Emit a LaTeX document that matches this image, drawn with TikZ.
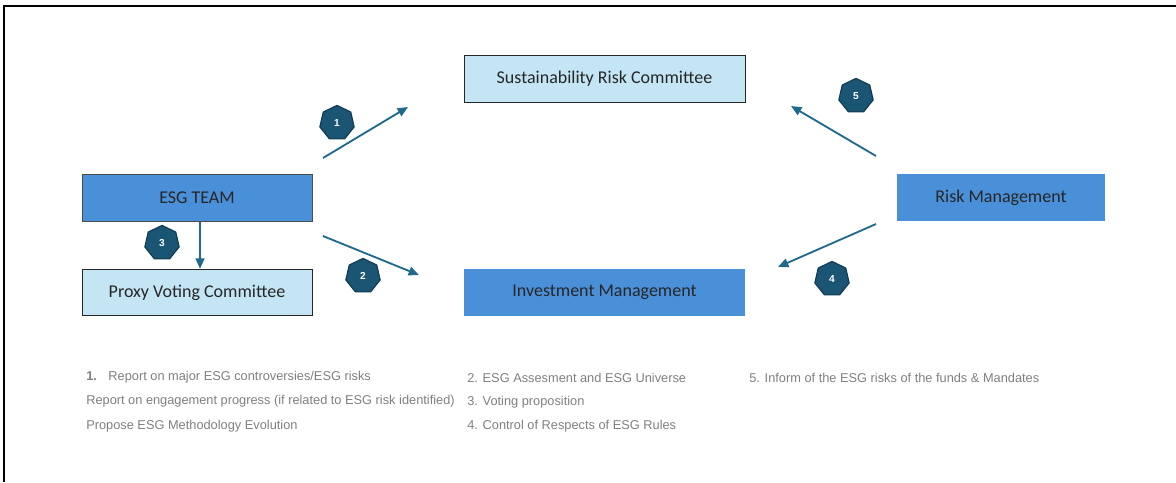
\documentclass[tikz,border=0pt]{standalone}
\usepackage{fontspec}
\setmainfont{Carlito}
\newfontfamily\notefont{Liberation Sans}
\usepackage{xcolor}
\usetikzlibrary{arrows.meta, positioning, shapes.geometric}

\definecolor{paleblue}{HTML}{C3E5F4}
\definecolor{midblue}{HTML}{4A90D9}
\definecolor{tealarrow}{HTML}{1F6A8C}
\definecolor{hexfill}{HTML}{1B5574}
\definecolor{hexline}{HTML}{0E3A52}
\definecolor{notegray}{HTML}{7F7F7F}

\begin{document}
\begin{tikzpicture}[
    x=0.025cm, y=-0.025cm,
    >={Triangle[length=2.6mm, width=2.2mm]},
    box/.style={align=center, inner sep=2pt, font=\fontsize{12.8}{14}\selectfont,
                text=black!85, minimum height=1.16cm},
    pale/.style={box, draw=black!85, line width=0.6pt, fill=paleblue},
    dark/.style={box, fill=midblue},
    flow/.style={->, draw=tealarrow, line width=1.3pt},
    badge/.style={regular polygon, regular polygon sides=7, minimum size=0.88cm,
                  inner sep=0pt, fill=hexfill, draw=hexline, line width=0.8pt,
                  text=white, font=\notefont\fontsize{7.2}{8}\selectfont\bfseries},
    note/.style={anchor=west, inner sep=0pt, text=notegray,
                 font=\notefont\fontsize{9.1}{10}\selectfont}]
    % page frame (top and left edges only)
    \useasboundingbox (0,0) rectangle (1176,482);
    \draw[line width=1.6pt] (4,482) -- (4,6) -- (1176,6);

    % boxes
    \node[pale, minimum width=7.025cm] (src) at (604.5,79) {Sustainability Risk Committee};
    \node[dark, draw=black!70, line width=0.6pt, minimum width=5.75cm] (esg) at (197,198) {ESG TEAM};
    \node[pale, minimum width=5.75cm] (proxy) at (197,292.5) {Proxy Voting Committee};
    \node[dark, minimum width=7.025cm] (inv) at (604.5,292.5) {Investment Management};
    \node[dark, minimum width=5.2cm] (risk) at (1001,197.5) {Risk Management};

    % arrow ends
    \coordinate (a1s) at (323,158); \coordinate (a1e) at (408,107);
    \coordinate (a2s) at (323,236); \coordinate (a2e) at (419,275);
    \coordinate (a5s) at (876,156); \coordinate (a5e) at (791,106);
    \coordinate (a4s) at (876,224); \coordinate (a4e) at (778,267);
    \draw[flow] (a1s) -- (a1e);
    \draw[flow] (a2s) -- (a2e);
    \draw[flow] (a5s) -- (a5e);
    \draw[flow] (a4s) -- (a4e);
    \draw[flow] (esg.south -| 200,0) -- (proxy.north -| 200,0);

    % numbered badges
    \node[badge] (b1) at (337,123) {1};
    \node[badge] (b2) at (363,276) {2};
    \node[badge] (b3) at (162,243) {3};
    \node[badge] (b4) at (832,279) {4};
    \node[badge] (b5) at (856,96) {5};

    % legend
    \node[note] (n1) at (86,377) {\textbf{1.}\hspace{0.9em}Report on major ESG controversies/ESG risks};
    \node[note] (n2) at (86,401) {Report on engagement progress (if related to ESG risk identified)};
    \node[note] (n3) at (86,426) {Propose ESG Methodology Evolution};
    \node[note] (m1) at (467,378) {2. ESG Assesment and ESG Universe};
    \node[note] (m2) at (467,402) {3. Voting proposition};
    \node[note] (m3) at (467,426) {4. Control of Respects of ESG Rules};
    \node[note] (r1) at (749,378) {5. Inform of the ESG risks of the funds \& Mandates};
\end{tikzpicture}
\end{document}
